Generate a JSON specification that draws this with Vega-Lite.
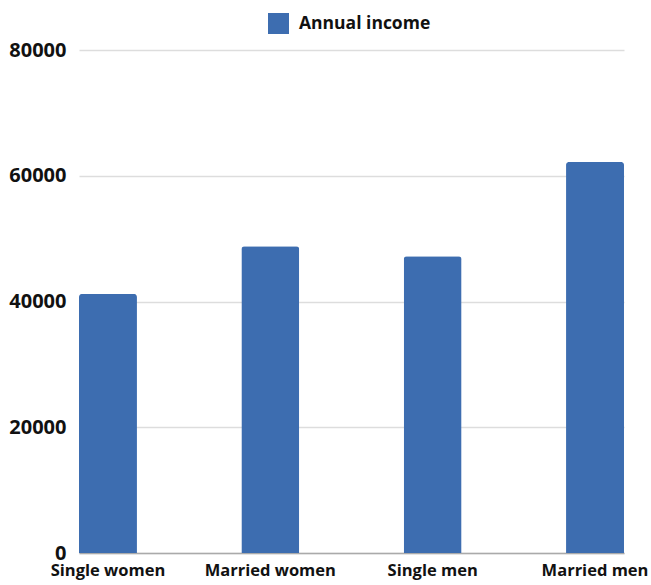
{
  "$schema": "https://vega.github.io/schema/vega-lite/v6.json",
  "width": 545,
  "height": 503,
  "autosize": "none",
  "padding": {"left": 79, "top": 50, "right": 27, "bottom": 32},
  "background": "white",
  "data": {
    "values": [
      {"category": "Single women", "income": 41200},
      {"category": "Married women", "income": 48800},
      {"category": "Single men", "income": 47200},
      {"category": "Married men", "income": 62200}
    ]
  },
  "mark": {"type": "bar", "cornerRadiusTopLeft": 3, "cornerRadiusTopRight": 3},
  "encoding": {
    "x": {
      "field": "category",
      "type": "nominal",
      "sort": null,
      "scale": {"paddingInner": 0.643, "paddingOuter": 0},
      "axis": {
        "title": null,
        "labelAngle": 0,
        "ticks": false,
        "domain": true,
        "domainColor": "#aaaaaa",
        "domainWidth": 1.5,
        "labelFont": "Open Sans",
        "labelFontSize": 16.5,
        "labelFontWeight": "bold",
        "labelColor": "#111111",
        "labelPadding": 9
      }
    },
    "y": {
      "field": "income",
      "type": "quantitative",
      "scale": {"domain": [0, 80000], "nice": false},
      "axis": {
        "title": null,
        "values": [0, 20000, 40000, 60000, 80000],
        "format": "d",
        "domain": false,
        "ticks": false,
        "grid": true,
        "gridColor": "#dddddd",
        "gridWidth": 1.5,
        "labelPadding": 13,
        "labelFont": "Open Sans",
        "labelFontSize": 20,
        "labelFontWeight": "bold",
        "labelColor": "#111111"
      }
    },
    "color": {
      "datum": "Annual income",
      "scale": {"range": ["#3d6db0"]},
      "legend": {
        "title": null,
        "orient": "none",
        "legendX": 189,
        "legendY": -37,
        "symbolType": "square",
        "symbolSize": 441,
        "symbolStrokeWidth": 0,
        "symbolOpacity": 1,
        "labelFont": "Open Sans",
        "labelFontSize": 17.5,
        "labelFontWeight": "bold",
        "labelColor": "#111111",
        "labelOffset": 10
      }
    }
  },
  "config": {"view": {"stroke": null}}
}
